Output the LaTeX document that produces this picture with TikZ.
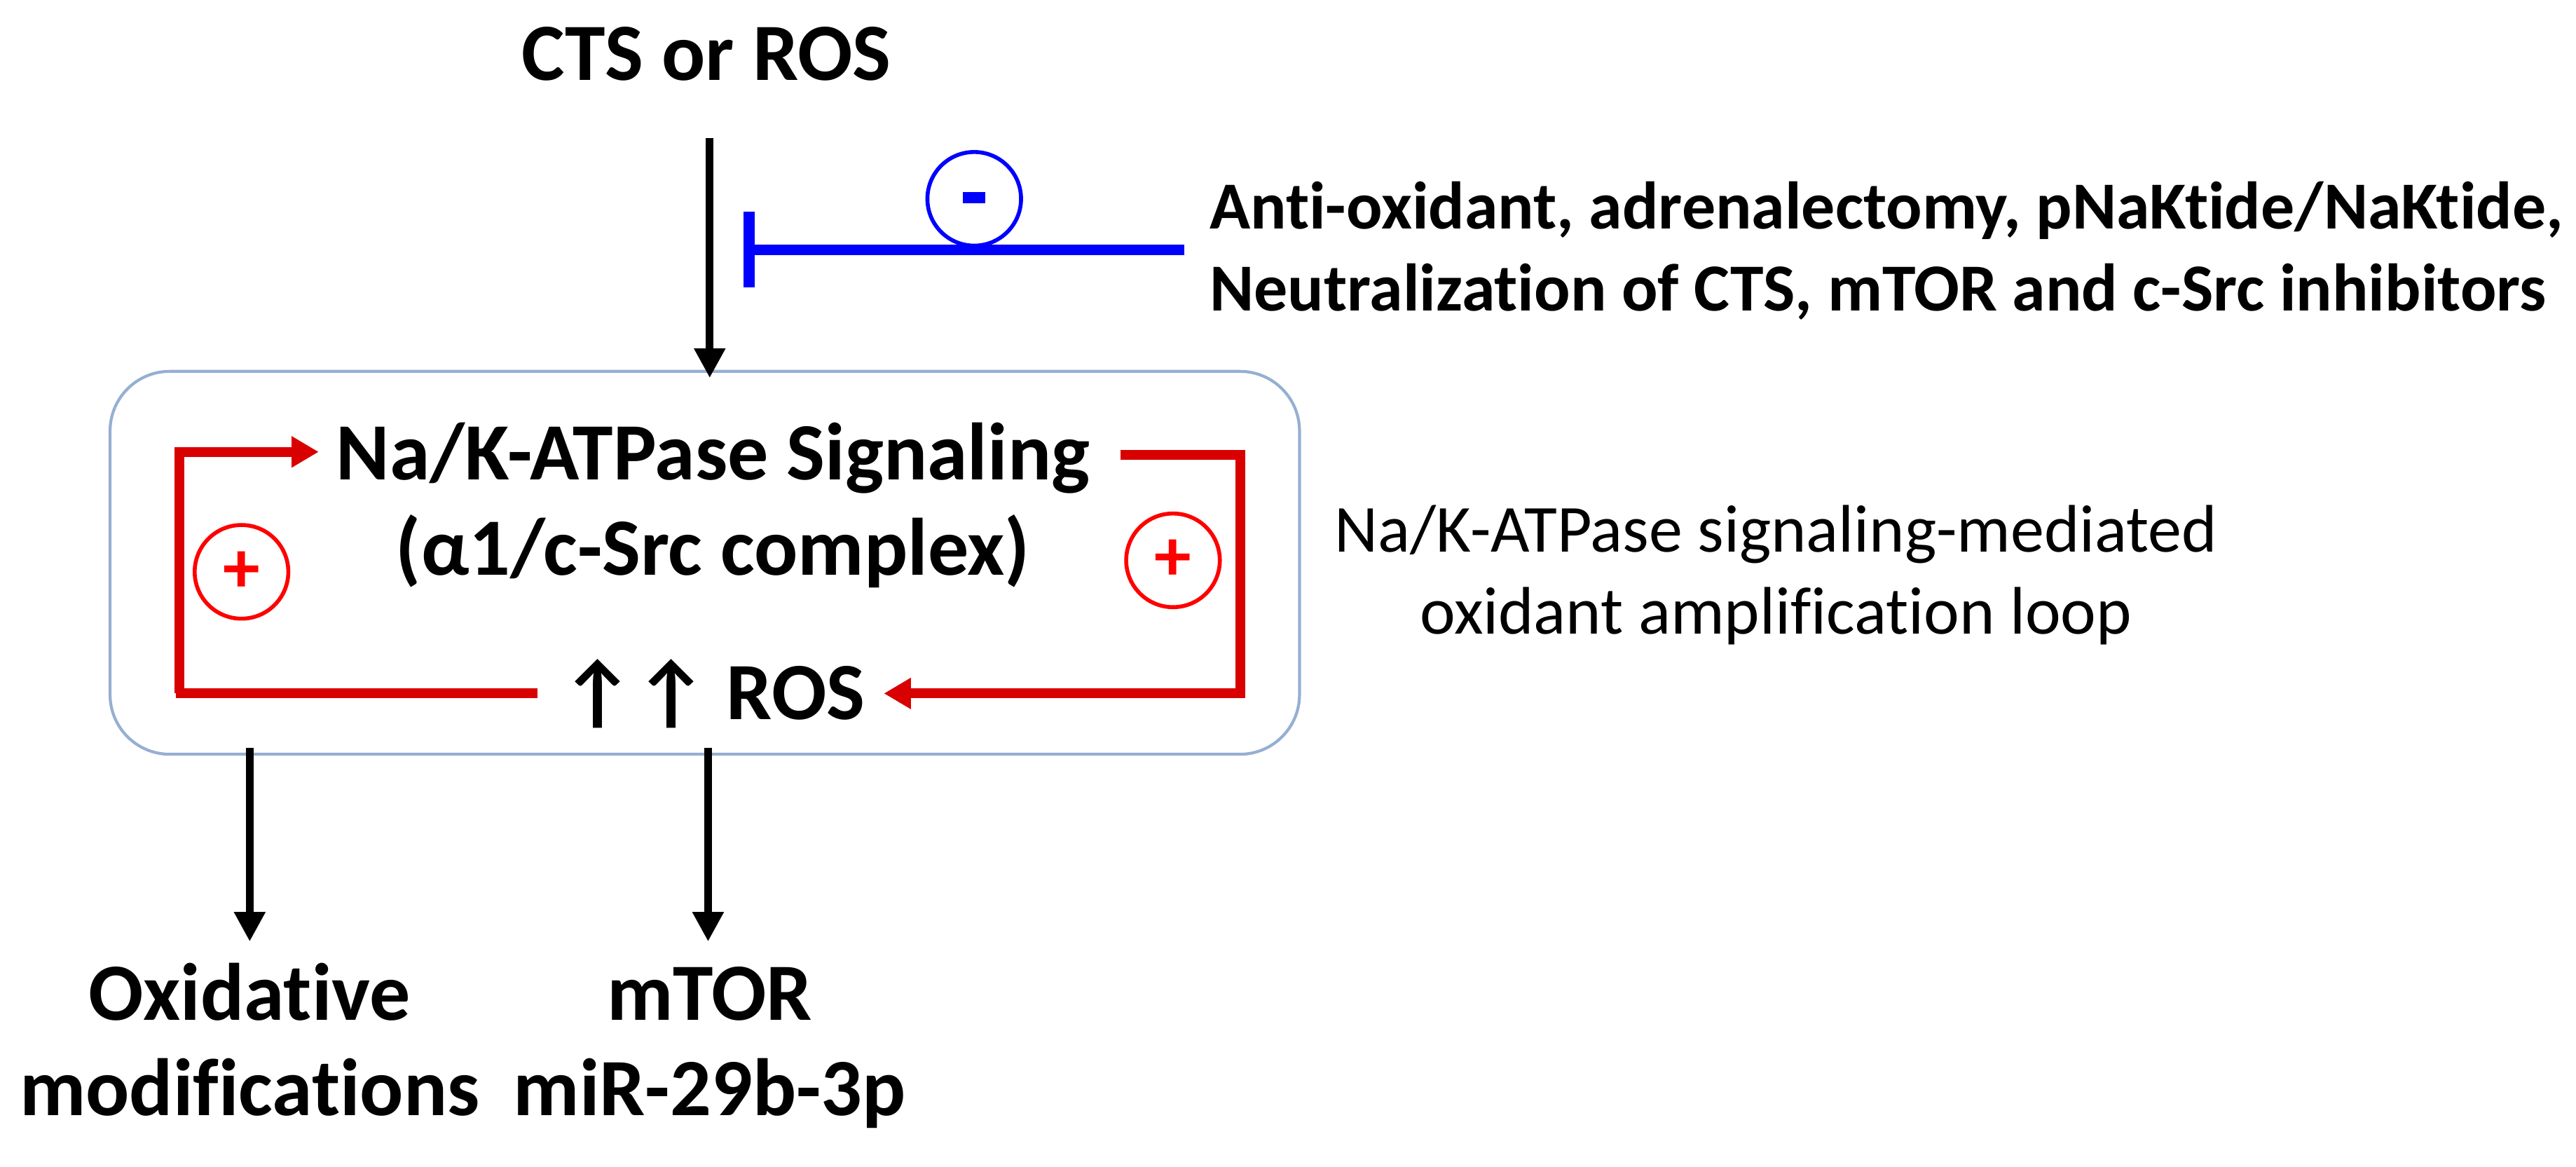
\documentclass[tikz,border=0pt]{standalone}
\usepackage{fontspec}
\setmainfont{Carlito}[Ligatures=CommonOff]
\usetikzlibrary{arrows.meta}
\definecolor{boxc}{RGB}{150,175,210}
\begin{document}
\begin{tikzpicture}[x=0.02344cm,y=-0.02344cm,
  big/.style={font=\bfseries\fontsize{33}{38.7}\selectfont,inner sep=0pt,anchor=base},
  side/.style={font=\bfseries\fontsize{27.3}{33.3}\selectfont,inner sep=0pt},
  loopt/.style={font=\fontsize{27.3}{33.3}\selectfont,inner sep=0pt},
  blk/.style={line width=3.2pt,-{Triangle[length=12pt,width=12pt]}},
  red/.style={draw=red!85!black,line width=4pt},
  redar/.style={red,-{Triangle[length=11pt,width=12pt]}},
  circ/.style={circle,draw,line width=1.6pt,minimum size=57*0.02344cm,inner sep=0pt,font=\bfseries\fontsize{30}{30}\selectfont}]
\useasboundingbox (0,0) rectangle (1568,710);
\node[big] (cts) at (430,49) {CTS or ROS};
\node[draw=boxc,line width=1.2pt,rounded corners=0.85cm,minimum width=724*0.02344cm,minimum height=233*0.02344cm] (box) at (429,342.5) {};
\coordinate (top) at (432,230);
\draw[blk] (432,84) -- (top);
\node[big] (sig) at (434,292) {Na/K-ATPase Signaling};
\node[big] (cpx) at (434,350) {(α1/c-Src complex)};
\node[big] (ros) at (434,438) {↑↑ ROS};
\coordinate (bar) at (456,152);
\coordinate (bs) at (721,152);
\draw[blue,line width=4.3pt] (bs) -- (bar);
\draw[blue,line width=4.3pt] (456,129) -- (456,175);
\node[circ,draw=blue,text=blue] (minus) at (593,121) {\raisebox{1pt}{\rule{9pt}{4.5pt}}};
\node[side,align=left,anchor=base west] (inh) at (736,189) {Anti-oxidant, adrenalectomy, pNaKtide/NaKtide,\\Neutralization of CTS, mTOR and c-Src inhibitors};
\node[loopt,align=center,anchor=base] (loop) at (1081,386) {Na/K-ATPase signaling-mediated\\oxidant amplification loop};
\coordinate (l1) at (107,422);
\coordinate (l2) at (327,422);
\draw[red] (l2) -- (l1);
\draw[redar] (109,422) -- (109,275) -- (194,275);
\draw[redar] (682,277) -- (755,277) -- (755,422) -- (538,422);
\node[circ,draw=red,text=red] (p1) at (147,348) {+};
\node[circ,draw=red,text=red] (p2) at (714,341) {+};
\draw[blk] (152,455) -- (152,573);
\draw[blk] (431,455) -- (431,573);
\node[big,align=center] (ox) at (152,679) {Oxidative\\modifications};
\node[big,align=center] (mt) at (432,679) {mTOR\\miR-29b-3p};
\end{tikzpicture}
\end{document}
